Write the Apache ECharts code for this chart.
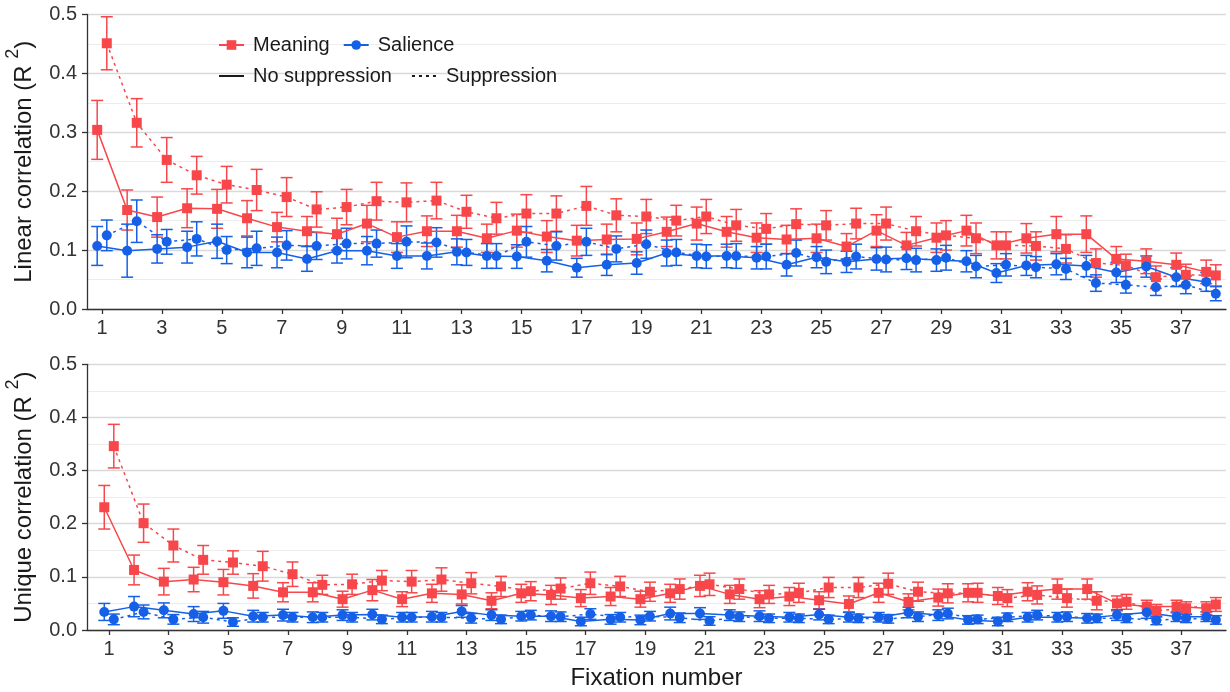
<!DOCTYPE html>
<html><head><meta charset="utf-8">
<script src="https://cdn.jsdelivr.net/npm/echarts@6/dist/echarts.min.js"></script>
<style>html,body{margin:0;padding:0;background:#fff}#c{width:1230px;height:692px}</style>
</head><body><div id="c"></div>
<script>
// ---------- DATA ----------
const fixations = [1,2,3,4,5,6,7,8,9,10,11,12,13,14,15,16,17,18,19,20,21,22,23,24,25,26,27,28,29,30,31,32,33,34,35,36,37,38];
const xTickValues = [1,3,5,7,9,11,13,15,17,19,21,23,25,27,29,31,33,35,37];

// Linear correlation (top panel)
const linMeaningNoSup = [0.304,0.168,0.156,0.171,0.170,0.154,0.139,0.132,0.127,0.145,0.122,0.132,0.132,0.120,0.133,0.123,0.116,0.118,0.119,0.131,0.145,0.131,0.121,0.118,0.120,0.106,0.133,0.108,0.121,0.133,0.108,0.120,0.127,0.127,0.085,0.081,0.075,0.063];
const linMeaningNoSupErr = [0.050,0.034,0.034,0.033,0.033,0.030,0.025,0.025,0.027,0.031,0.026,0.026,0.027,0.024,0.028,0.027,0.026,0.026,0.027,0.025,0.028,0.026,0.025,0.024,0.024,0.022,0.027,0.022,0.025,0.026,0.023,0.025,0.030,0.031,0.021,0.021,0.020,0.020];
const linMeaningSup = [0.451,0.316,0.253,0.227,0.211,0.202,0.190,0.169,0.173,0.183,0.181,0.184,0.165,0.154,0.162,0.162,0.175,0.159,0.157,0.150,0.157,0.142,0.136,0.144,0.142,0.145,0.145,0.132,0.125,0.120,0.108,0.107,0.102,0.078,0.074,0.054,0.058,0.057];
const linMeaningSupErr = [0.045,0.041,0.038,0.032,0.031,0.035,0.033,0.030,0.030,0.032,0.033,0.031,0.028,0.027,0.032,0.030,0.033,0.028,0.029,0.026,0.029,0.027,0.026,0.026,0.025,0.026,0.028,0.025,0.025,0.026,0.023,0.024,0.024,0.024,0.019,0.019,0.018,0.018];
const linSalienceNoSup = [0.107,0.099,0.102,0.105,0.115,0.096,0.096,0.085,0.099,0.099,0.090,0.090,0.097,0.090,0.089,0.082,0.070,0.075,0.078,0.095,0.090,0.090,0.087,0.075,0.088,0.080,0.085,0.086,0.083,0.081,0.061,0.074,0.076,0.073,0.062,0.072,0.054,0.046];
const linSalienceNoSupErr = [0.033,0.045,0.024,0.027,0.029,0.026,0.026,0.021,0.021,0.024,0.021,0.022,0.022,0.021,0.020,0.019,0.016,0.018,0.019,0.022,0.020,0.020,0.019,0.019,0.018,0.018,0.019,0.019,0.019,0.018,0.016,0.017,0.018,0.018,0.017,0.018,0.016,0.016];
const linSalienceSup = [0.125,0.149,0.114,0.119,0.100,0.103,0.108,0.107,0.111,0.111,0.114,0.113,0.096,0.090,0.114,0.107,0.114,0.102,0.110,0.096,0.089,0.090,0.089,0.095,0.080,0.089,0.084,0.083,0.087,0.072,0.075,0.071,0.068,0.044,0.041,0.037,0.041,0.026];
const linSalienceSupErr = [0.026,0.036,0.021,0.029,0.023,0.029,0.025,0.023,0.026,0.023,0.027,0.025,0.022,0.021,0.026,0.024,0.023,0.022,0.024,0.022,0.020,0.021,0.021,0.022,0.020,0.021,0.021,0.020,0.021,0.019,0.019,0.018,0.018,0.014,0.014,0.014,0.015,0.012];

// Unique correlation (bottom panel)
const uniMeaningNoSup = [0.231,0.113,0.091,0.095,0.090,0.083,0.071,0.071,0.058,0.075,0.058,0.069,0.067,0.055,0.069,0.066,0.060,0.063,0.058,0.069,0.083,0.067,0.058,0.063,0.056,0.049,0.070,0.053,0.061,0.070,0.064,0.072,0.077,0.077,0.050,0.044,0.044,0.041];
const uniMeaningNoSupErr = [0.041,0.028,0.025,0.023,0.024,0.023,0.018,0.018,0.015,0.020,0.014,0.017,0.018,0.015,0.017,0.018,0.016,0.017,0.015,0.017,0.020,0.017,0.016,0.017,0.016,0.015,0.018,0.015,0.016,0.017,0.016,0.017,0.019,0.019,0.014,0.012,0.012,0.012];
const uniMeaningSup = [0.346,0.201,0.159,0.132,0.127,0.120,0.105,0.085,0.086,0.093,0.091,0.095,0.088,0.082,0.073,0.078,0.088,0.082,0.072,0.077,0.086,0.077,0.067,0.070,0.080,0.080,0.087,0.072,0.069,0.070,0.060,0.066,0.060,0.055,0.053,0.036,0.041,0.048];
const uniMeaningSupErr = [0.041,0.036,0.031,0.027,0.022,0.028,0.023,0.018,0.019,0.019,0.021,0.022,0.020,0.019,0.018,0.020,0.021,0.019,0.018,0.019,0.021,0.019,0.017,0.018,0.019,0.019,0.020,0.018,0.018,0.018,0.016,0.017,0.017,0.017,0.014,0.012,0.012,0.013];
const uniSalienceNoSup = [0.034,0.044,0.037,0.030,0.036,0.026,0.028,0.024,0.028,0.029,0.024,0.025,0.035,0.028,0.026,0.026,0.016,0.020,0.019,0.031,0.031,0.028,0.026,0.024,0.029,0.024,0.024,0.033,0.028,0.019,0.016,0.024,0.024,0.022,0.028,0.033,0.025,0.025];
const uniSalienceNoSupErr = [0.016,0.019,0.014,0.014,0.014,0.011,0.011,0.010,0.010,0.010,0.009,0.010,0.011,0.010,0.009,0.010,0.008,0.009,0.009,0.012,0.011,0.010,0.010,0.009,0.010,0.009,0.009,0.010,0.010,0.008,0.008,0.009,0.009,0.009,0.010,0.011,0.009,0.009];
const uniSalienceSup = [0.020,0.034,0.020,0.024,0.015,0.024,0.024,0.024,0.024,0.020,0.024,0.024,0.022,0.020,0.028,0.025,0.030,0.024,0.026,0.023,0.017,0.025,0.022,0.022,0.020,0.022,0.021,0.025,0.031,0.020,0.024,0.028,0.025,0.022,0.022,0.018,0.022,0.019];
const uniSalienceSupErr = [0.010,0.013,0.009,0.011,0.008,0.009,0.009,0.009,0.009,0.008,0.009,0.009,0.009,0.008,0.009,0.009,0.010,0.009,0.009,0.009,0.008,0.009,0.008,0.008,0.008,0.008,0.008,0.009,0.010,0.008,0.008,0.009,0.009,0.008,0.008,0.008,0.008,0.008];

// ---------- STYLE ----------
const RED = '#F7474B', BLUE = '#1560E6';
const DODGE = 0.16;
const FONT = 'Liberation Sans, Arial, sans-serif';
const AXIS_COLOR = '#333333';

function pts(vals, off) { return vals.map((v, i) => [fixations[i] + off, v]); }
function errData(vals, errs, off) { return vals.map((v, i) => [fixations[i] + off, v - errs[i], v + errs[i]]); }

function errSeries(vals, errs, off, color, gi) {
  return {
    type: 'custom', xAxisIndex: gi, yAxisIndex: gi, silent: true, z: 2,
    data: errData(vals, errs, off),
    encode: { x: 0, y: [1, 2] },
    renderItem: function (params, api) {
      const x = api.value(0), lo = api.value(1), hi = api.value(2);
      const p1 = api.coord([x, lo]), p2 = api.coord([x, hi]);
      const w = 6;
      const st = { stroke: color, lineWidth: 1.5 };
      return { type: 'group', children: [
        { type: 'line', shape: { x1: p1[0], y1: p1[1], x2: p2[0], y2: p2[1] }, style: st },
        { type: 'line', shape: { x1: p1[0] - w, y1: p1[1], x2: p1[0] + w, y2: p1[1] }, style: st },
        { type: 'line', shape: { x1: p2[0] - w, y1: p2[1], x2: p2[0] + w, y2: p2[1] }, style: st }
      ]};
    }
  };
}
function lineSeries(name, vals, off, color, symbol, dashed, gi) {
  return {
    type: 'line', name: name, xAxisIndex: gi, yAxisIndex: gi, z: 3,
    data: pts(vals, off),
    symbol: symbol, symbolSize: 10, showSymbol: true,
    lineStyle: { color: color, width: 1.5, type: dashed ? [3, 4] : 'solid' },
    itemStyle: { color: color },
    emphasis: { disabled: true }
  };
}

function xAxisCfg(gi, min) {
  return {
    gridIndex: gi, type: 'value', min: min, max: 38.5,
    axisLine: { show: true, onZero: false, lineStyle: { color: AXIS_COLOR, width: 1.3 } },
    axisTick: { show: true, length: 5, customValues: xTickValues, lineStyle: { color: AXIS_COLOR, width: 1.3 } },
    axisLabel: { customValues: xTickValues, fontSize: 20, color: '#333', fontFamily: FONT, margin: 9 },
    splitLine: { show: false },
    name: gi === 1 ? 'Fixation number' : '',
    nameLocation: 'middle', nameGap: 36,
    nameTextStyle: { fontSize: 24, color: '#1a1a1a', fontFamily: FONT }
  };
}
function yAxisCfg(gi, label) {
  return {
    gridIndex: gi, type: 'value', min: 0, max: 0.5, interval: 0.1,
    axisLine: { show: true, lineStyle: { color: AXIS_COLOR, width: 1.3 } },
    axisTick: { show: true, length: 5, lineStyle: { color: AXIS_COLOR, width: 1.3 } },
    axisLabel: { fontSize: 20, color: '#333', fontFamily: FONT, margin: 10, formatter: v => v.toFixed(1) },
    splitLine: { show: true, lineStyle: { color: '#d9d9d9', width: 1.3 } },
    minorTick: { show: false, splitNumber: 2 },
    minorSplitLine: { show: true, lineStyle: { color: '#ededed', width: 1 } },
    name: '{a|' + label + ' (R }{s|2}{a|)}',
    nameLocation: 'middle', nameGap: 43,
    nameTextStyle: {
      rich: {
        a: { fontSize: 24, color: '#1a1a1a', fontFamily: FONT, lineHeight: 40 },
        s: { fontSize: 18, color: '#1a1a1a', fontFamily: FONT, lineHeight: 20, verticalAlign: 'top' }
      }
    }
  };
}

const series = [
  errSeries(linMeaningNoSup, linMeaningNoSupErr, -DODGE, RED, 0),
  errSeries(linMeaningSup, linMeaningSupErr, DODGE, RED, 0),
  errSeries(linSalienceNoSup, linSalienceNoSupErr, -DODGE, BLUE, 0),
  errSeries(linSalienceSup, linSalienceSupErr, DODGE, BLUE, 0),
  lineSeries('Meaning', linMeaningNoSup, -DODGE, RED, 'rect', false, 0),
  lineSeries('Meaning', linMeaningSup, DODGE, RED, 'rect', true, 0),
  lineSeries('Salience', linSalienceNoSup, -DODGE, BLUE, 'circle', false, 0),
  lineSeries('Salience', linSalienceSup, DODGE, BLUE, 'circle', true, 0),

  errSeries(uniMeaningNoSup, uniMeaningNoSupErr, -DODGE, RED, 1),
  errSeries(uniMeaningSup, uniMeaningSupErr, DODGE, RED, 1),
  errSeries(uniSalienceNoSup, uniSalienceNoSupErr, -DODGE, BLUE, 1),
  errSeries(uniSalienceSup, uniSalienceSupErr, DODGE, BLUE, 1),
  lineSeries('Meaning', uniMeaningNoSup, -DODGE, RED, 'rect', false, 1),
  lineSeries('Meaning', uniMeaningSup, DODGE, RED, 'rect', true, 1),
  lineSeries('Salience', uniSalienceNoSup, -DODGE, BLUE, 'circle', false, 1),
  lineSeries('Salience', uniSalienceSup, DODGE, BLUE, 'circle', true, 1),

  { type: 'line', name: 'No suppression', xAxisIndex: 0, yAxisIndex: 0, data: [], symbol: 'none',
    lineStyle: { color: '#1a1a1a', width: 1.5, type: 'solid' }, itemStyle: { color: '#1a1a1a', opacity: 0 } },
  { type: 'line', name: 'Suppression', xAxisIndex: 0, yAxisIndex: 0, data: [], symbol: 'none',
    lineStyle: { color: '#1a1a1a', width: 1.5, type: [3, 4] }, itemStyle: { color: '#1a1a1a', opacity: 0 } }
];

const chart = echarts.init(document.getElementById('c'), null, { renderer: 'canvas' });
chart.setOption({
  animation: false,
  backgroundColor: '#ffffff',
  textStyle: { fontFamily: FONT },
  grid: [
    { left: 87, right: 4, top: 14.4, height: 294.6, outerBoundsMode: 'none', containLabel: false },
    { left: 87, right: 4, top: 364.3, height: 265.7, outerBoundsMode: 'none', containLabel: false }
  ],
  xAxis: [xAxisCfg(0, 0.5), xAxisCfg(1, 0.26)],
  yAxis: [yAxisCfg(0, 'Linear correlation'), yAxisCfg(1, 'Unique correlation')],
  legend: [
    { data: ['Meaning', 'Salience'], left: 213, top: 30, itemWidth: 25, itemHeight: 12, itemGap: 13,
      selectedMode: false, textStyle: { fontSize: 20, color: '#1a1a1a', fontFamily: FONT, padding: [0, 0, 0, 4] } },
    { data: [
        { name: 'No suppression', itemStyle: { opacity: 0 } },
        { name: 'Suppression', itemStyle: { opacity: 0 } }
      ], left: 213, top: 61, itemWidth: 25, itemHeight: 12, itemGap: 19,
      selectedMode: false, textStyle: { fontSize: 20, color: '#1a1a1a', fontFamily: FONT, padding: [0, 0, 0, 4] } }
  ],
  series: series
});
</script>
</body></html>
